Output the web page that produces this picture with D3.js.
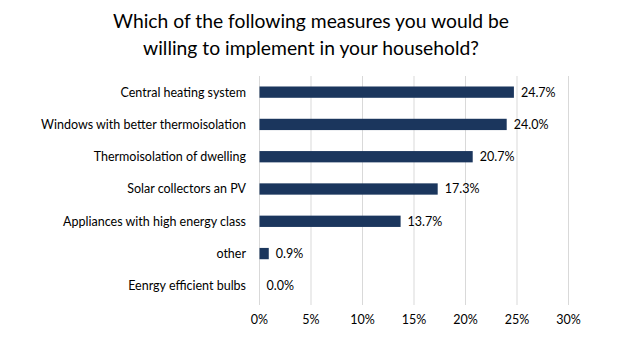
<!DOCTYPE html>
<html><head><meta charset="utf-8">
<script src="https://cdn.jsdelivr.net/npm/d3@7"></script>
<style>body{margin:0;background:#fff}svg{display:block;font-family:Lato,"Open Sans",sans-serif}</style>
</head><body><svg id="c" width="620" height="341"></svg>
<script>
const categories = ["Central heating system","Windows with better thermoisolation","Thermoisolation of dwelling","Solar collectors an PV","Appliances with high energy class","other","Eenrgy efficient bulbs"];
const values = [24.7, 24.0, 20.7, 17.3, 13.7, 0.9, 0.0];
const tickValues = [0,5,10,15,20,25,30];
const titleLines = ["Which of the following measures you would be","willing to implement in your household?"];

const svg = d3.select("#c");
const x = d3.scaleLinear().domain([0,30]).range([259.5,568.5]);
const y = d3.scaleBand().domain(categories).range([76,302]).paddingInner(0.65).paddingOuter(0.325);

svg.append("g").selectAll("text").data(titleLines).join("text")
  .attr("x",311).attr("y",(d,i)=>28+i*27).attr("text-anchor","middle")
  .attr("font-size",19.3).attr("fill","#000").text(d=>d);

svg.append("g").selectAll("line").data(tickValues).join("line")
  .attr("x1",d=>x(d)).attr("x2",d=>x(d)).attr("y1",76).attr("y2",305)
  .attr("stroke","#d9d9d9").attr("stroke-width",1);

svg.append("g").selectAll("text").data(tickValues).join("text")
  .attr("x",d=>x(d)).attr("y",324).attr("text-anchor","middle")
  .attr("font-size",12.5).attr("fill","#000").text(d=>d+"%");

svg.append("g").selectAll("rect").data(values).join("rect")
  .attr("x",x(0)).attr("y",(d,i)=>y(categories[i]))
  .attr("width",d=>x(d)-x(0)).attr("height",y.bandwidth())
  .attr("fill","#1b365d");

svg.append("g").selectAll("text").data(categories).join("text")
  .attr("x",246).attr("y",d=>y(d)+y.bandwidth()/2).attr("dy","0.35em")
  .attr("text-anchor","end").attr("font-size",12.5).attr("fill","#000").text(d=>d);

svg.append("g").selectAll("text").data(values).join("text")
  .attr("x",d=>x(d)+7).attr("y",(d,i)=>y(categories[i])+y.bandwidth()/2).attr("dy","0.35em")
  .attr("font-size",12.5).attr("fill","#000").text(d=>d.toFixed(1)+"%");
</script></body></html>
